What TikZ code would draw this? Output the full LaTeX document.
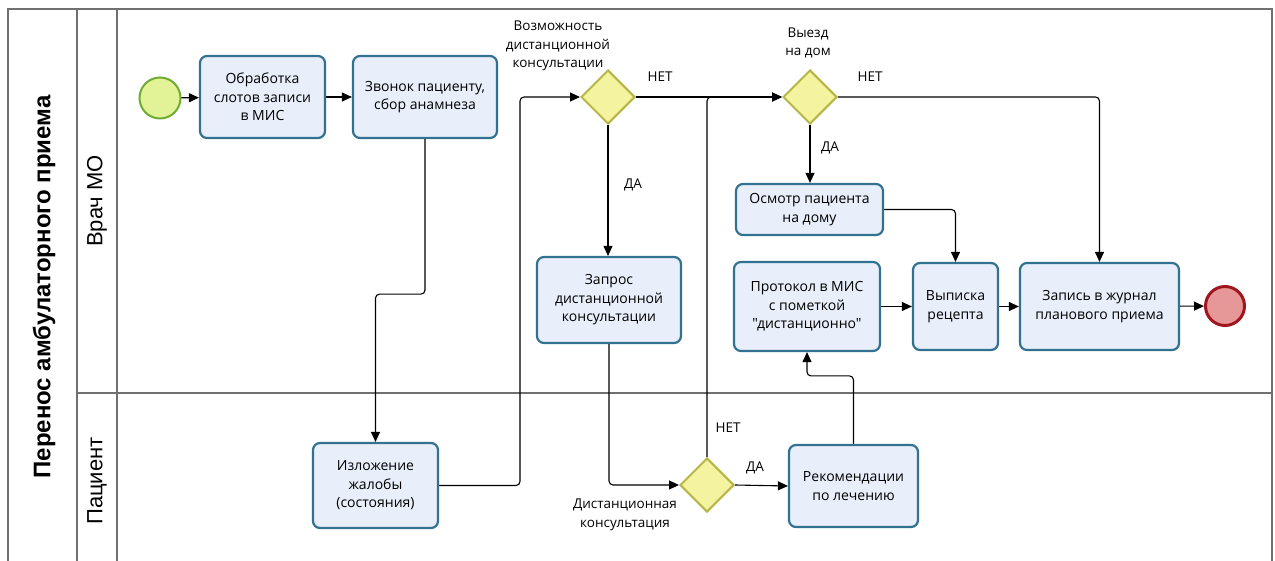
\documentclass[tikz,border=0pt]{standalone}
\usepackage{fontspec}
\newfontfamily\taskfont{Open Sans}
\newfontfamily\lanefont{Liberation Sans}
\usetikzlibrary{arrows.meta,shapes.geometric}

\definecolor{taskfill}{RGB}{232,238,250}
\definecolor{taskdraw}{RGB}{50,114,144}
\definecolor{gwfill}{RGB}{244,244,160}
\definecolor{gwdraw}{RGB}{182,182,70}
\definecolor{startfill}{RGB}{226,242,150}
\definecolor{startdraw}{RGB}{112,172,52}
\definecolor{endfill}{RGB}{230,152,152}
\definecolor{enddraw}{RGB}{160,22,32}
\definecolor{framegray}{RGB}{112,112,112}

\tikzset{
  task/.style={draw=taskdraw, fill=taskfill, line width=2.2pt, rounded corners=7pt,
    align=center, inner sep=0pt, font=\taskfont\fontsize{14}{18.5}\selectfont},
  gateway/.style={diamond, draw=gwdraw, fill=gwfill, line width=2pt, inner sep=0pt,
    minimum width=54pt, minimum height=54pt},
  startev/.style={circle, draw=startdraw, fill=startfill, line width=2pt,
    minimum size=41pt, inner sep=0pt},
  endev/.style={circle, draw=enddraw, fill=endfill, line width=3pt,
    minimum size=39pt, inner sep=0pt},
  flow/.style={line width=1.1pt, rounded corners=4pt,
    -{Triangle[length=10pt,width=9pt]}},
  lbl/.style={align=center, inner sep=0pt, font=\taskfont\fontsize{13.5}{18.5}\selectfont},
  lane/.style={draw=framegray, line width=1.2pt},
}

\begin{document}
\begin{tikzpicture}[x=1pt,y=-1pt]
\useasboundingbox (0,0) rectangle (1275,560);

% pool and lanes
\begin{scope}
  \clip (0,0) rectangle (1275,560);
  \draw[lane] (8,9) rectangle (1272,600);
  \draw[lane] (77,9) -- (77,600);
  \draw[lane] (117,9) -- (117,600);
  \draw[lane] (77,393) -- (1272,393);
\end{scope}
\node[rotate=90, font=\lanefont\bfseries\fontsize{24}{28}\selectfont] (pool) at (44,287) {Перенос амбулаторного приема};
\node[rotate=90, font=\lanefont\fontsize{22}{26}\selectfont] (lane1) at (97,201) {Врач МО};
\node[rotate=90, font=\lanefont\fontsize{22}{26}\selectfont] (lane2) at (97,481) {Пациент};

% events
\node[startev] (start) at (160,98) {};
\node[endev] (finish) at (1225,306) {};

% tasks, doctor lane
\node[task, minimum width=125pt, minimum height=82pt] (t1) at (262.5,97) {Обработка\\слотов записи\\в МИС};
\node[task, minimum width=144pt, minimum height=82pt] (t2) at (425,97) {Звонок пациенту,\\сбор анамнеза};
\node[task, minimum width=144pt, minimum height=86pt] (req) at (609,300) {Запрос\\дистанционной\\консультации};
\node[task, minimum width=147pt, minimum height=51pt] (visit) at (809.5,209.5) {Осмотр пациента\\на дому};
\node[task, minimum width=146pt, minimum height=89pt] (prot) at (807,306.5) {Протокол в МИС\\с пометкой\\"дистанционно"};
\node[task, minimum width=85pt, minimum height=87pt] (rx) at (955.5,306.5) {Выписка\\рецепта};
\node[task, minimum width=159pt, minimum height=87pt] (log) at (1099.5,306.5) {Запись в журнал\\планового приема};

% tasks, patient lane
\node[task, minimum width=125pt, minimum height=85pt] (compl) at (375.5,485.5) {Изложение\\жалобы\\(состояния)};
\node[task, minimum width=129pt, minimum height=82pt] (recom) at (853.5,486) {Рекомендации\\по лечению};

% gateways
\node[gateway] (g1) at (608,97) {};
\node[gateway] (g2) at (810,97) {};
\node[gateway] (g3) at (707,485) {};

% gateway captions
\node[lbl] (g1cap) at (558,46) {Возможность\\дистанционной\\консультации};
\node[lbl] (g2cap) at (808,43) {Выезд\\на дом};
\node[lbl] (g3cap) at (625,515) {Дистанционная\\консультация};

% branch labels
\node[lbl] (g1no) at (660,77) {НЕТ};
\node[lbl] (g1yes) at (633,185) {ДА};
\node[lbl] (g2no) at (870,77) {НЕТ};
\node[lbl] (g2yes) at (830,148) {ДА};
\node[lbl] (g3no) at (728,428) {НЕТ};
\node[lbl] (g3yes) at (755,468) {ДА};

% connectors
\coordinate (j1) at (520,97);
\draw[flow] (start) -- (t1);
\draw[flow] (t1) -- (t2);
\draw[flow] (t2.south) -- ++(0,155) -| (compl.north);
\draw[flow] (compl.east) -| (j1) -- (g1.west);
\draw[flow] (g1.south) -- (g1.south |- req.north);
\draw[flow] (g1.east) -- (g2.west);
\draw[flow] (req.south) |- (g3.west);
\draw[flow] (g3.north) |- (g2.west);
\draw[flow] (g3.east) -- (recom.west);
\draw[flow] (recom.north) -- ++(0,-68) -| (prot.south);
\draw[flow] (g2.south) -- (g2.south |- visit.north);
\draw[flow] (visit.east) -| (rx.north);
\draw[flow] (g2.east) -| (log.north);
\draw[flow] (prot) -- (rx);
\draw[flow] (rx) -- (log);
\draw[flow] (log) -- (finish);
\end{tikzpicture}
\end{document}
